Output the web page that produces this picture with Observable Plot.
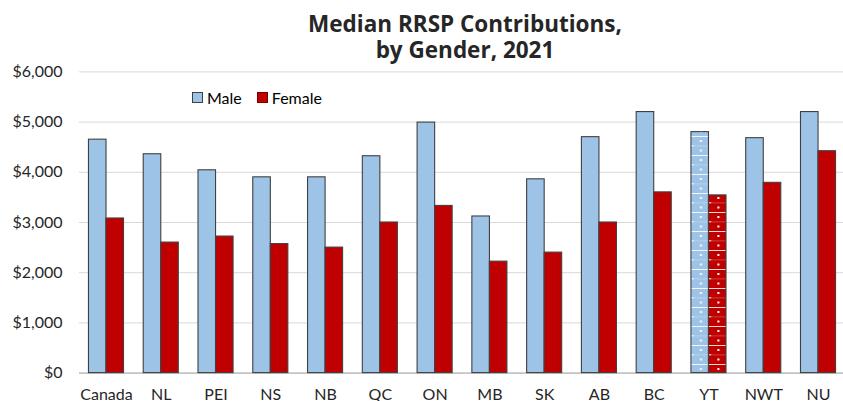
<!DOCTYPE html>
<html>
<head>
<meta charset="utf-8">
<script src="https://cdn.jsdelivr.net/npm/d3@7"></script>
<script src="https://cdn.jsdelivr.net/npm/@observablehq/plot@0.6"></script>
<style>
  html, body { margin: 0; padding: 0; background: #fff; }
  #wrap { position: relative; width: 843px; height: 401px; overflow: hidden; font-family: Lato, "Open Sans", sans-serif; color: #262626; }
  #title { position: absolute; left: 79px; width: 772px; top: 11px; text-align: center; font-family: "Open Sans", sans-serif; font-weight: 700; font-size: 22.5px; line-height: 26px; color: #262626; }
  #legend { position: absolute; left: 192px; top: 88px; display: flex; align-items: center; font-size: 16px; color: #000; }
  #legend .sw { width: 9px; height: 9px; border: 1px solid #404040; margin-right: 4px; }
  #legend .item { display: flex; align-items: center; margin-right: 15px; }
  #chart { position: absolute; left: 0; top: 60px; }
</style>
</head>
<body>
<div id="wrap">
  <div id="title">Median RRSP Contributions,<br>by Gender, 2021</div>
  <div id="chart"></div>
  <div id="legend">
    <div class="item"><div class="sw" style="background:#9DC3E6"></div><span>Male</span></div>
    <div class="item"><div class="sw" style="background:#C00000;border-color:#7a0000"></div><span>Female</span></div>
  </div>
</div>
<script>
const regions = ["Canada", "NL", "PEI", "NS", "NB", "QC", "ON", "MB", "SK", "AB", "BC", "YT", "NWT", "NU"];
const maleValues = [4650, 4360, 4040, 3900, 3900, 4320, 4990, 3120, 3860, 4700, 5200, 4800, 4680, 5200];
const femaleValues = [3080, 2600, 2720, 2570, 2500, 3000, 3330, 2220, 2400, 3000, 3600, 3540, 3790, 4420];
const yTicks = [0, 1000, 2000, 3000, 4000, 5000, 6000];
const patternedRegion = "YT";

const maleColor = "#9DC3E6";
const femaleColor = "#C00000";

const male = regions.map((r, i) => ({region: r, value: maleValues[i]}));
const female = regions.map((r, i) => ({region: r, value: femaleValues[i]}));

const half = 17.5;
const fmt = d => "$" + d3.format(",")(d);

const chart = Plot.plot({
  width: 843,
  height: 341,
  marginLeft: 79,
  marginRight: 0,
  marginTop: 11.4,
  marginBottom: 28.4,
  style: {fontFamily: "Lato, 'Open Sans', sans-serif", fontSize: "16px", color: "#262626", background: "transparent", overflow: "visible"},
  x: {domain: regions, range: [78.6, 845.4], paddingInner: 0.36, paddingOuter: 0.18, round: false, label: null},
  y: {domain: [0, 6000], range: [312.6, 11.4], label: null},
  color: {type: "identity"},
  marks: [
    Plot.gridY(yTicks.filter(d => d > 0), {stroke: "#d9d9d9", strokeOpacity: 1, strokeWidth: 1}),
    Plot.ruleY([0], {stroke: "#c4c4c4", strokeWidth: 1.6}),
    Plot.barY(male, {x: "region", y: "value", insetRight: half,
      fill: d => d.region === patternedRegion ? "url(#patMale)" : maleColor,
      stroke: "#404040", strokeWidth: 1.1}),
    Plot.barY(female, {x: "region", y: "value", insetLeft: half,
      fill: d => d.region === patternedRegion ? "url(#patFemale)" : femaleColor,
      stroke: "#404040", strokeWidth: 1.1}),
    Plot.axisY(yTicks, {tickSize: 0, tickPadding: 17, tickFormat: fmt, label: null, fontSize: 16}),
    Plot.axisX({tickSize: 0, tickPadding: 16, label: null, fontSize: 16})
  ]
});

// patterns for the YT bars, aligned to the band from the x scale
const xs = chart.scale("x");
const x0 = xs.apply(patternedRegion);
const svgNS = "http://www.w3.org/2000/svg";
const defs = document.createElementNS(svgNS, "defs");
function makePattern(id, base, xStart) {
  const p = document.createElementNS(svgNS, "pattern");
  p.setAttribute("id", id);
  p.setAttribute("patternUnits", "userSpaceOnUse");
  p.setAttribute("x", xStart);
  p.setAttribute("y", 0);
  p.setAttribute("width", half);
  p.setAttribute("height", 19);
  const shapes = [
    {x: 0, y: 0, w: half, h: 19, f: base, o: 1},
    {x: 0, y: 0, w: half, h: 1, f: "#fff", o: 0.85},
    {x: 0, y: 9.5, w: half, h: 0.8, f: "#fff", o: 0.3},
    {x: 9, y: 4, w: 2, h: 2, f: "#fff", o: 1},
    {x: 9, y: 13.5, w: 2, h: 2, f: "#fff", o: 1},
    {x: 0.8, y: 9, w: 1.6, h: 1.4, f: "#fff", o: 0.9}
  ];
  for (const s of shapes) {
    const r = document.createElementNS(svgNS, "rect");
    r.setAttribute("x", s.x); r.setAttribute("y", s.y);
    r.setAttribute("width", s.w); r.setAttribute("height", s.h);
    r.setAttribute("fill", s.f); r.setAttribute("fill-opacity", s.o);
    p.appendChild(r);
  }
  defs.appendChild(p);
}
makePattern("patMale", maleColor, x0);
makePattern("patFemale", femaleColor, x0 + half);
chart.insertBefore(defs, chart.firstChild);

document.getElementById("chart").appendChild(chart);
</script>
</body>
</html>
